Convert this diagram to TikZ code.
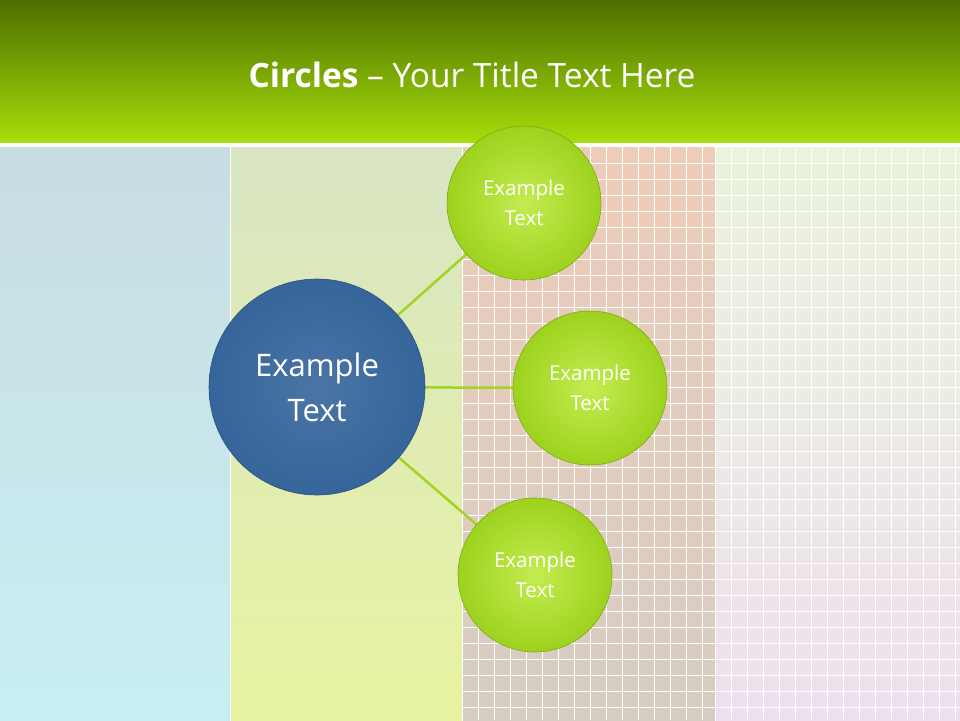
\documentclass[tikz,border=0pt]{standalone}
\usepackage{fontspec}
\setmainfont{Open Sans}
\definecolor{hdtop}{HTML}{4E6E00}
\definecolor{hdbot}{HTML}{A8E00A}
\definecolor{bluec}{HTML}{36659B}
\definecolor{greenc}{HTML}{9DD21E}
\definecolor{greenl}{HTML}{C4EC50}
\definecolor{linec}{HTML}{A2D422}
\definecolor{p1}{HTML}{C9DDE3}
\definecolor{p2}{HTML}{E2F0CA}
\definecolor{p3t}{HTML}{EDCCB8}
\definecolor{p3b}{HTML}{D6CDC3}
\definecolor{p4t}{HTML}{EAF3DD}
\definecolor{p4b}{HTML}{EEE0EE}
\tikzset{
  small/.style={circle,minimum size=154pt,inner sep=0pt,draw=greenc!80!black,line width=0.6pt,
    inner color=greenl,outer color=greenc,text=white,font=\fontsize{20.5}{30}\selectfont,align=center},
  big/.style={circle,minimum size=216pt,inner sep=0pt,draw=bluec!80!black,line width=0.6pt,
    inner color=bluec!90!white,outer color=bluec,text=white,font=\fontsize{31}{45}\selectfont,align=center},
  conn/.style={draw=linec,line width=2.5pt}
}
\begin{document}
\begin{tikzpicture}[x=1pt,y=-1pt]
\useasboundingbox (0,0) rectangle (960,720);
\shade[top color=hdtop,bottom color=hdbot] (0,0) rectangle (960,145);
\fill[white] (0,143) rectangle (960,147);
\shade[top color=p1,bottom color=p1!80!cyan!60!white] (0,147) rectangle (230,720);
\shade[top color=p2!90!gray,bottom color=p2!80!yellow] (231,147) rectangle (462,720);
\shade[top color=p3t,middle color=p3t!80!red!40!white,bottom color=p3b] (463,147) rectangle (715,720);
\shade[top color=p4t,middle color=p4t!80!cyan!30!white,bottom color=p4b] (716,147) rectangle (960,720);
\draw[white,line width=1pt] (230,147)--(230,720) (462,147)--(462,720) (715,147)--(715,720);
\foreach \x in {478,494,...,714} \draw[white,line width=0.7pt] (\x,147)--(\x,720);
\foreach \y in {163,179,...,720} \draw[white,line width=0.7pt] (463,\y)--(715,\y);
\foreach \x in {731,747,...,960} \draw[white,line width=0.7pt] (\x,147)--(\x,720);
\foreach \y in {163,179,...,720} \draw[white,line width=0.7pt] (716,\y)--(960,\y);
\node[text=white,font=\fontsize{33.5}{40}\selectfont] (title) at (472,75) {\textbf{Circles} – Your Title Text Here};
\path[conn] (317,387) -- (524,203);
\path[conn] (317,387) -- (590,388);
\path[conn] (317,387) -- (535,575);
\node[big] (c) at (317,387) {Example\\Text};
\node[small] (a) at (524,203) {Example\\Text};
\node[small] (b) at (590,388) {Example\\Text};
\node[small] (d) at (535,575) {Example\\Text};
\end{tikzpicture}
\end{document}
